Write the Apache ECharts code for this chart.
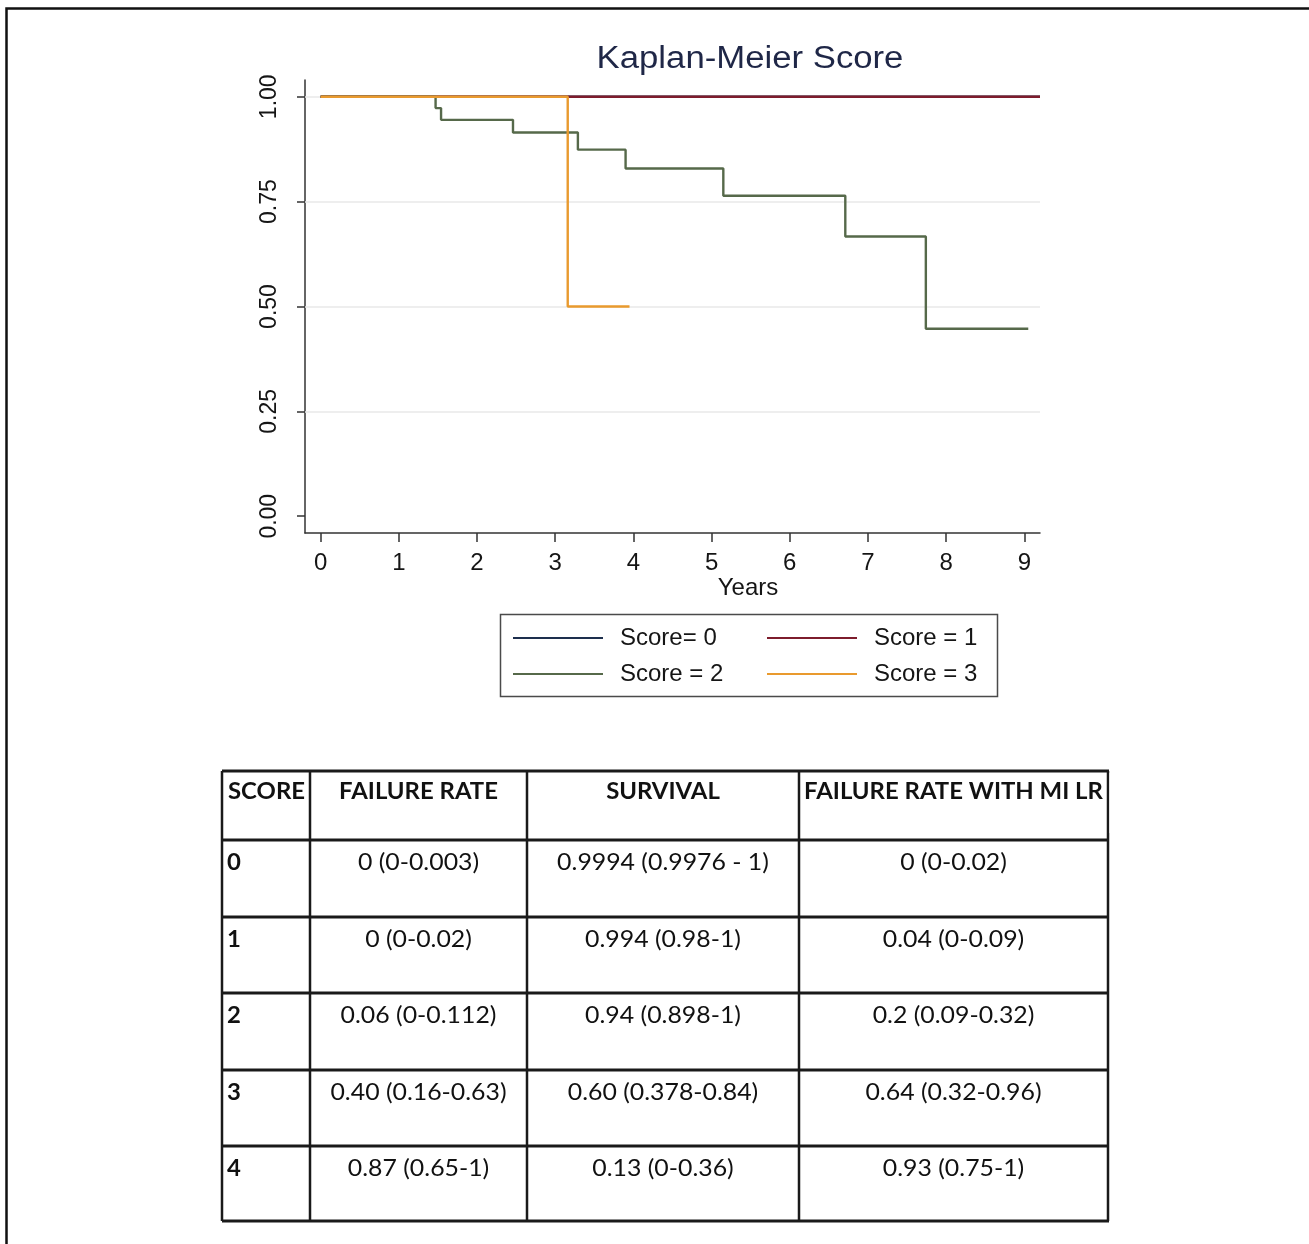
<!DOCTYPE html>
<html>
<head>
<meta charset="utf-8">
<script src="https://cdn.jsdelivr.net/npm/echarts@6/dist/echarts.min.js"></script>
<style>
  html, body { margin: 0; padding: 0; background: #ffffff; }
  #chart { width: 1309px; height: 1244px; }
</style>
</head>
<body>
<div id="chart"></div>
<script>
// ---- Data ----
const yearTicks = [0, 1, 2, 3, 4, 5, 6, 7, 8, 9];
const survivalTicks = [0, 0.25, 0.5, 0.75, 1];
const gridLevels = [0.25, 0.5, 0.75, 1];

const seriesNames = ['Score= 0', 'Score = 1', 'Score = 2', 'Score = 3'];

// Kaplan-Meier step curves: event times (years) and survival after each step
const score0Times = [0, 9.2];
const score0Surv  = [1, 1];
const score1Times = [0, 9.2];
const score1Surv  = [1, 1];
const score2Times = [0, 1.47, 1.54, 2.46, 3.29, 3.90, 5.15, 6.71, 7.74, 9.05];
const score2Surv  = [1, 0.973, 0.945, 0.915, 0.874, 0.829, 0.764, 0.667, 0.447, 0.447];
const score3Times = [0, 3.16, 3.95];
const score3Surv  = [1, 0.5, 0.5];

// Summary table
const tableHeader = ['SCORE', 'FAILURE RATE', 'SURVIVAL', 'FAILURE RATE WITH MI LR'];
const tableScores = ['0', '1', '2', '3', '4'];
const failureRate = ['0 (0-0.003)', '0 (0-0.02)', '0.06 (0-0.112)', '0.40 (0.16-0.63)', '0.87 (0.65-1)'];
const survivalRate = ['0.9994 (0.9976 - 1)', '0.994 (0.98-1)', '0.94 (0.898-1)', '0.60 (0.378-0.84)', '0.13 (0-0.36)'];
const failureRateMiLr = ['0 (0-0.02)', '0.04 (0-0.09)', '0.2 (0.09-0.32)', '0.64 (0.32-0.96)', '0.93 (0.75-1)'];

// ---- Styling ----
const seriesColors = ['#1d2f4d', '#7d1c2c', '#56694a', '#e99a2e'];
const axisFont = '"Liberation Sans", Arial, sans-serif';
const tableFont = 'Lato, "Open Sans", sans-serif';

const pair = (xs, ys) => xs.map((x, i) => [x, ys[i]]);
const curves = [
  pair(score0Times, score0Surv),
  pair(score1Times, score1Surv),
  pair(score2Times, score2Surv),
  pair(score3Times, score3Surv)
];

const series = curves.map((data, i) => {
  const s = {
    name: seriesNames[i],
    type: 'line',
    step: 'end',
    data: data,
    symbol: 'none',
    color: seriesColors[i],
    lineStyle: { color: seriesColors[i], width: 2.4 },
    z: 3 + i,
    silent: true,
    animation: false
  };
  if (i === 0) {
    s.markLine = {
      silent: true,
      z: 1,
      symbol: ['none', 'none'],
      label: { show: false },
      lineStyle: { color: '#e9e9e9', width: 1.5, type: 'solid' },
      data: gridLevels.map(v => ({ yAxis: v }))
    };
  }
  return s;
});

// Legend: one component per entry so the two columns line up
const legendSlots = [
  { left: 513, top: 626 }, { left: 767, top: 626 },
  { left: 513, top: 662 }, { left: 767, top: 662 }
];
const legends = seriesNames.map((name, i) => ({
  data: [name],
  left: legendSlots[i].left,
  top: legendSlots[i].top,
  padding: 0,
  icon: 'rect',
  itemWidth: 90,
  itemHeight: 2,
  selectedMode: false,
  textStyle: { fontFamily: axisFont, fontSize: 24, color: '#151515', padding: [0, 0, 0, 12] }
}));

// Table geometry
const colEdges = [222, 310, 527, 799, 1108];
const rowEdges = [771, 840, 917, 993, 1070, 1146, 1221];
const graphics = [];

// page frame
graphics.push({
  type: 'polyline',
  shape: { points: [[6.5, 1244], [6.5, 8.5], [1309, 8.5]] },
  style: { stroke: '#111', lineWidth: 2.5, fill: null }
});

// title
graphics.push({
  type: 'text', x: 750, y: 59, scaleX: 1.12,
  style: { text: 'Kaplan-Meier Score', fontFamily: axisFont, fontSize: 31, fill: '#1f2747', textAlign: 'center', textVerticalAlign: 'middle' }
});

// legend frame
graphics.push({
  type: 'rect',
  shape: { x: 500.5, y: 614.5, width: 497, height: 82 },
  style: { stroke: '#4a4a4a', lineWidth: 1.5, fill: null }
});

// axis title
graphics.push({
  type: 'text', x: 748, y: 588,
  style: { text: 'Years', fontFamily: axisFont, fontSize: 24, fill: '#151515', textAlign: 'center', textVerticalAlign: 'middle' }
});

// table text
const addCell = (text, x, y, bold, align) => {
  graphics.push({
    type: 'text', x: x, y: y, scaleX: bold ? 1.04 : 1.08,
    style: {
      text: text, fontFamily: tableFont, fontSize: 23, fontWeight: bold ? 'bold' : 'normal',
      fill: '#111', textAlign: align, textVerticalAlign: 'middle'
    }
  });
};
const colCenter = c => (colEdges[c] + colEdges[c + 1]) / 2;
tableHeader.forEach((h, c) => addCell(h, c === 0 ? 228 : colCenter(c), 792, true, c === 0 ? 'left' : 'center'));
tableScores.forEach((s, r) => {
  const y = rowEdges[r + 1] + 23;
  addCell(s, 227, y, true, 'left');
  addCell(failureRate[r], colCenter(1), y, false, 'center');
  addCell(survivalRate[r], colCenter(2), y, false, 'center');
  addCell(failureRateMiLr[r], colCenter(3), y, false, 'center');
});

// table rules (drawn after text so the right edge clips the long header)
rowEdges.forEach(y => graphics.push({
  type: 'line', shape: { x1: colEdges[0], y1: y, x2: colEdges[colEdges.length - 1] + 1, y2: y },
  style: { stroke: '#1a1a1a', lineWidth: 3 }
}));
colEdges.forEach(x => graphics.push({
  type: 'line', shape: { x1: x, y1: rowEdges[0], x2: x, y2: rowEdges[rowEdges.length - 1] },
  style: { stroke: '#1a1a1a', lineWidth: 2.5 }
}));
// white mask past the table's right edge
graphics.push({
  type: 'rect', shape: { x: colEdges[4] + 1.5, y: rowEdges[0] + 2, width: 60, height: 60 },
  style: { fill: '#ffffff' }
});

const chart = echarts.init(document.getElementById('chart'), null, { renderer: 'canvas' });
chart.setOption({
  backgroundColor: '#ffffff',
  animation: false,
  grid: { left: 305, right: 269, top: 80, bottom: 711, containLabel: false },
  xAxis: {
    type: 'value',
    min: -0.2, max: 9.2,
    axisLine: { show: true, onZero: false, lineStyle: { color: '#333', width: 1.5 } },
    axisTick: { show: true, length: 9, customValues: yearTicks, lineStyle: { color: '#333', width: 1.5 } },
    axisLabel: { customValues: yearTicks, margin: 18, fontFamily: axisFont, fontSize: 24, color: '#151515' },
    splitLine: { show: false }
  },
  yAxis: {
    type: 'value',
    min: -0.04, max: 1.04,
    axisLine: { show: true, onZero: false, lineStyle: { color: '#333', width: 1.5 } },
    axisTick: { show: true, length: 8, customValues: survivalTicks, lineStyle: { color: '#333', width: 1.5 } },
    axisLabel: {
      customValues: survivalTicks, rotate: 90, margin: 24,
      fontFamily: axisFont, fontSize: 23, color: '#151515',
      formatter: v => v.toFixed(2)
    },
    splitLine: { show: false }
  },
  legend: legends,
  series: series,
  graphic: graphics
});
</script>
</body>
</html>
